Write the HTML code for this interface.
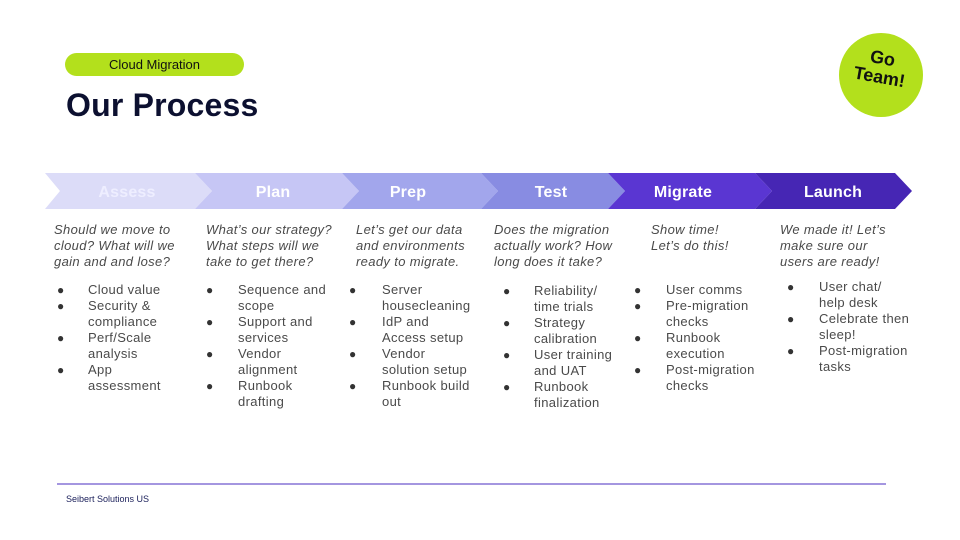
<!DOCTYPE html>
<html><head><meta charset="utf-8"><style>
body{margin:0;width:960px;height:540px;background:#fff;position:relative;overflow:hidden;font-family:"Liberation Sans",sans-serif}
.a{position:absolute;white-space:nowrap}
.d{position:absolute;font-size:13px;line-height:16px;color:#4a4a4a;font-style:italic;white-space:nowrap;letter-spacing:0.35px}
.l{position:absolute;font-size:13px;line-height:16px;color:#4a4a4a;white-space:nowrap;letter-spacing:0.35px}
.b{position:absolute;font-size:12px;line-height:16px;color:#333}
</style></head><body>
<div class="a" style="left:65px;top:53px;width:179px;height:23px;border-radius:12px;background:#b3e01c;font-size:13px;line-height:23px;text-align:center;color:#111">Cloud Migration</div>
<div class="a" style="left:66px;top:87px;font-size:32px;font-weight:bold;color:#0c1030;letter-spacing:0.2px">Our Process</div>
<div class="a" style="left:839px;top:33px;width:84px;height:84px;border-radius:50%;background:#b3e01c"></div>
<div class="a" style="left:844px;top:49px;width:74px;text-align:center;font-weight:bold;font-size:18px;line-height:19px;color:#111;transform:rotate(10deg)">Go<br>Team!</div>
<svg class="a" style="left:0;top:0" width="960" height="540">
<polygon points="45,173 195,173 212,191 195,209 45,209 60,191" fill="#dcdcf8"/>
<polygon points="195,173 342,173 359,191 342,209 195,209 212,191" fill="#c6c6f5"/>
<polygon points="342,173 481,173 498,191 481,209 342,209 359,191" fill="#a2a6ec"/>
<polygon points="481,173 608,173 625,191 608,209 481,209 498,191" fill="#888ce2"/>
<polygon points="608,173 755,173 772,191 755,209 608,209 625,191" fill="#5a36d2"/>
<polygon points="755,173 895,173 912,191 895,209 755,209 772,191" fill="#4626b4"/>
<g fill="#fff" font-family="Liberation Sans" font-size="16" font-weight="bold" text-anchor="middle" letter-spacing="0.2">
<text x="127" y="197" fill="#eef">Assess</text><text x="273" y="197">Plan</text><text x="408" y="197">Prep</text><text x="551" y="197">Test</text><text x="683" y="197">Migrate</text><text x="833" y="197">Launch</text></g>
<line x1="57" y1="484" x2="886" y2="484" stroke="#4a2cc0" stroke-width="1"/>
</svg>
<div class="d" style="left:54px;top:222px">Should we move to<br>cloud? What will we<br>gain and and lose?</div>
<div class="d" style="left:206px;top:222px">What’s our strategy?<br>What steps will we<br>take to get there?</div>
<div class="d" style="left:356px;top:222px">Let’s get our data<br>and environments<br>ready to migrate.</div>
<div class="d" style="left:494px;top:222px">Does the migration<br>actually work? How<br>long does it take?</div>
<div class="d" style="left:651px;top:222px">Show time!<br>Let’s do this!</div>
<div class="d" style="left:780px;top:222px">We made it! Let’s<br>make sure our<br>users are ready!</div>

<div class="b" style="left:57px;top:282px">●<br>●<br><br>●<br><br>●</div>
<div class="l" style="left:88px;top:282px">Cloud value<br>Security &amp;<br>compliance<br>Perf/Scale<br>analysis<br>App<br>assessment</div>
<div class="b" style="left:206px;top:282px">●<br><br>●<br><br>●<br><br>●</div>
<div class="l" style="left:238px;top:282px">Sequence and<br>scope<br>Support and<br>services<br>Vendor<br>alignment<br>Runbook<br>drafting</div>
<div class="b" style="left:349px;top:282px">●<br><br>●<br><br>●<br><br>●</div>
<div class="l" style="left:382px;top:282px">Server<br>housecleaning<br>IdP and<br>Access setup<br>Vendor<br>solution setup<br>Runbook build<br>out</div>
<div class="b" style="left:503px;top:283px">●<br><br>●<br><br>●<br><br>●</div>
<div class="l" style="left:534px;top:283px">Reliability/<br>time trials<br>Strategy<br>calibration<br>User training<br>and UAT<br>Runbook<br>finalization</div>
<div class="b" style="left:634px;top:282px">●<br>●<br><br>●<br><br>●</div>
<div class="l" style="left:666px;top:282px">User comms<br>Pre-migration<br>checks<br>Runbook<br>execution<br>Post-migration<br>checks</div>
<div class="b" style="left:787px;top:279px">●<br><br>●<br><br>●</div>
<div class="l" style="left:819px;top:279px">User chat/<br>help desk<br>Celebrate then<br>sleep!<br>Post-migration<br>tasks</div>
<div class="a" style="left:66px;top:494px;font-size:9px;color:#1a1f5a">Seibert Solutions US</div>
</body></html>
